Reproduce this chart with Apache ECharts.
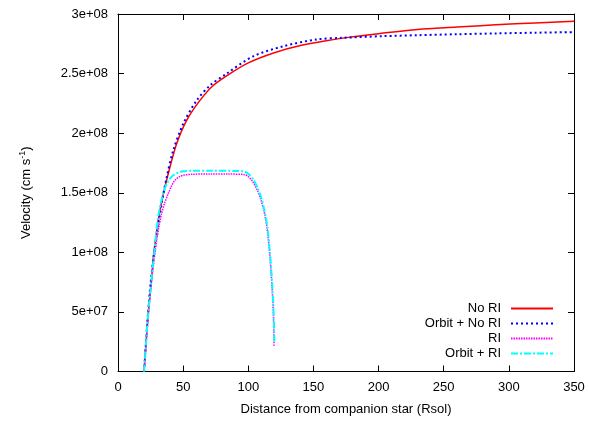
<!DOCTYPE html>
<html><head><meta charset="utf-8">
<script src="https://cdn.jsdelivr.net/npm/echarts@6/dist/echarts.min.js"></script>
<style>html,body{margin:0;padding:0;background:#fff}#c{width:589px;height:421px}</style>
</head><body><div id="c"></div>
<script>
const xTicks = [0, 50, 100, 150, 200, 250, 300, 350];
const yTickLabels = ['0', '5e+07', '1e+08', '1.5e+08', '2e+08', '2.5e+08', '3e+08'];

const noRI_x = [20, 21.4, 23.3, 25.8, 27.1, 28.5, 30.9, 34.8, 39.9, 45, 52.7, 62.9, 73.1, 86, 100, 120, 140, 160, 178, 200, 230, 260, 290, 320, 350];
const noRI_v = [0, 0.22e8, 0.50e8, 0.78e8, 0.96e8, 1.08e8, 1.27e8, 1.49e8, 1.716e8, 1.912e8, 2.108e8, 2.275e8, 2.40e8, 2.50e8, 2.59e8, 2.675e8, 2.735e8, 2.775e8, 2.806e8, 2.835e8, 2.87e8, 2.89e8, 2.91e8, 2.925e8, 2.94e8];

const orbNoRI_x = [20, 21.3, 23.1, 25.5, 28.4, 33.5, 37.4, 42.4, 50.1, 60.4, 70.6, 83.4, 103.7, 126.5, 152, 172, 203, 230, 260, 290, 320, 350];
const orbNoRI_v = [0, 0.22e8, 0.50e8, 0.79e8, 1.046e8, 1.41e8, 1.632e8, 1.856e8, 2.08e8, 2.275e8, 2.40e8, 2.50e8, 2.645e8, 2.728e8, 2.786e8, 2.80e8, 2.814e8, 2.822e8, 2.83e8, 2.837e8, 2.843e8, 2.848e8];

const RI_x = [20, 21.5, 23.5, 26, 28, 29.7, 31.5, 33.5, 36, 38.6, 41, 43.7, 47, 50.1, 57, 70, 85, 97, 100, 103.6, 107, 110, 112, 113.9, 115.2, 116.4, 117.4, 118.2, 118.9, 119.3, 119.8];
const RI_v = [0, 0.22e8, 0.50e8, 0.78e8, 0.96e8, 1.10e8, 1.22e8, 1.326e8, 1.42e8, 1.493e8, 1.555e8, 1.605e8, 1.633e8, 1.647e8, 1.655e8, 1.658e8, 1.657e8, 1.652e8, 1.635e8, 1.59e8, 1.52e8, 1.43e8, 1.35e8, 1.24e8, 1.13e8, 0.99e8, 0.85e8, 0.71e8, 0.58e8, 0.46e8, 0.21e8];

const orbRI_x = [20, 21.4, 23.3, 25.8, 27.5, 29.2, 30.9, 33, 35, 37.4, 40, 42.4, 46, 50.1, 56, 70, 90, 97, 100, 103.6, 107, 110, 112, 114, 115.4, 116.6, 117.6, 118.4, 119.1, 119.6, 120];
const orbRI_v = [0, 0.22e8, 0.50e8, 0.78e8, 0.96e8, 1.15e8, 1.30e8, 1.42e8, 1.50e8, 1.577e8, 1.62e8, 1.647e8, 1.668e8, 1.68e8, 1.685e8, 1.685e8, 1.683e8, 1.678e8, 1.66e8, 1.615e8, 1.545e8, 1.455e8, 1.37e8, 1.26e8, 1.14e8, 1.0e8, 0.86e8, 0.72e8, 0.58e8, 0.45e8, 0.25e8];

const seriesNames = ['No RI', 'Orbit + No RI', 'RI', 'Orbit + RI'];

function pairs(xs, vs) { return xs.map((x, i) => [x, vs[i]]); }

const font = 'Liberation Sans, Arial, sans-serif';
const chart = echarts.init(document.getElementById('c'), null, {renderer: 'canvas'});
const axisCommon = {
  axisLine: {show: true, onZero: false, lineStyle: {color: '#000', width: 1}},
  axisTick: {show: true, inside: true, length: 6, lineStyle: {color: '#000'}},
  splitLine: {show: false}
};
chart.setOption({
  animation: false,
  backgroundColor: '#fff',
  grid: {left: 118, right: 15, top: 14, bottom: 49.5},
  legend: {
    orient: 'vertical', right: 30, top: 296, align: 'right',
    itemWidth: 42, itemHeight: 8, itemGap: 0,
    itemStyle: {opacity: 0},
    textStyle: {fontFamily: font, fontSize: 13, color: '#000', lineHeight: 15, padding: [0, 5, 0, 0]},
    data: seriesNames
  },
  xAxis: [
    Object.assign({type: 'value', min: 0, max: 350, interval: 50, position: 'bottom',
      name: 'Distance from companion star (Rsol)', nameLocation: 'middle', nameGap: 31,
      nameTextStyle: {fontFamily: font, fontSize: 13, color: '#000'},
      axisLabel: {fontFamily: font, fontSize: 13, color: '#000', margin: 9,
        formatter: v => String(xTicks[Math.round(v / 50)])}}, axisCommon),
    Object.assign({type: 'value', min: 0, max: 350, interval: 50, position: 'top', axisLabel: {show: false}}, axisCommon)
  ],
  yAxis: [
    Object.assign({type: 'value', min: 0, max: 3e8, interval: 5e7, position: 'left',
      name: '{a|Velocity (cm s}{s|-1}{a|)}', nameLocation: 'middle', nameGap: 84,
      nameTextStyle: {rich: {
        a: {fontFamily: font, fontSize: 13, color: '#000', lineHeight: 16},
        s: {fontFamily: font, fontSize: 9, color: '#000', verticalAlign: 'top', lineHeight: 16, padding: [0, 0, 6, 0]}
      }},
      axisLabel: {fontFamily: font, fontSize: 13, color: '#000', margin: 10,
        formatter: v => yTickLabels[Math.round(v / 5e7)]}}, axisCommon),
    Object.assign({type: 'value', min: 0, max: 3e8, interval: 5e7, position: 'right', axisLabel: {show: false}}, axisCommon)
  ],
  series: [
    {name: seriesNames[0], type: 'line', data: pairs(noRI_x, noRI_v), showSymbol: false, symbol: 'none',
      smooth: 0.3, color: '#ff0000', lineStyle: {color: '#ff0000', width: 1.5, type: 'solid'}},
    {name: seriesNames[1], type: 'line', data: pairs(orbNoRI_x, orbNoRI_v), showSymbol: false, symbol: 'none',
      smooth: 0.3, color: '#0000ff', lineStyle: {color: '#0000ff', width: 2, type: [2, 3]}},
    {name: seriesNames[2], type: 'line', data: pairs(RI_x, RI_v), showSymbol: false, symbol: 'none',
      smooth: 0.3, color: '#ff00ff', lineStyle: {color: '#ff00ff', width: 1.5, type: [1.5, 1]}},
    {name: seriesNames[3], type: 'line', data: pairs(orbRI_x, orbRI_v), showSymbol: false, symbol: 'none',
      smooth: 0.3, color: '#00e5e5', lineStyle: {color: '#00ffff', width: 2, type: [7, 2, 2, 2]}}
  ]
});
</script>
</body></html>
